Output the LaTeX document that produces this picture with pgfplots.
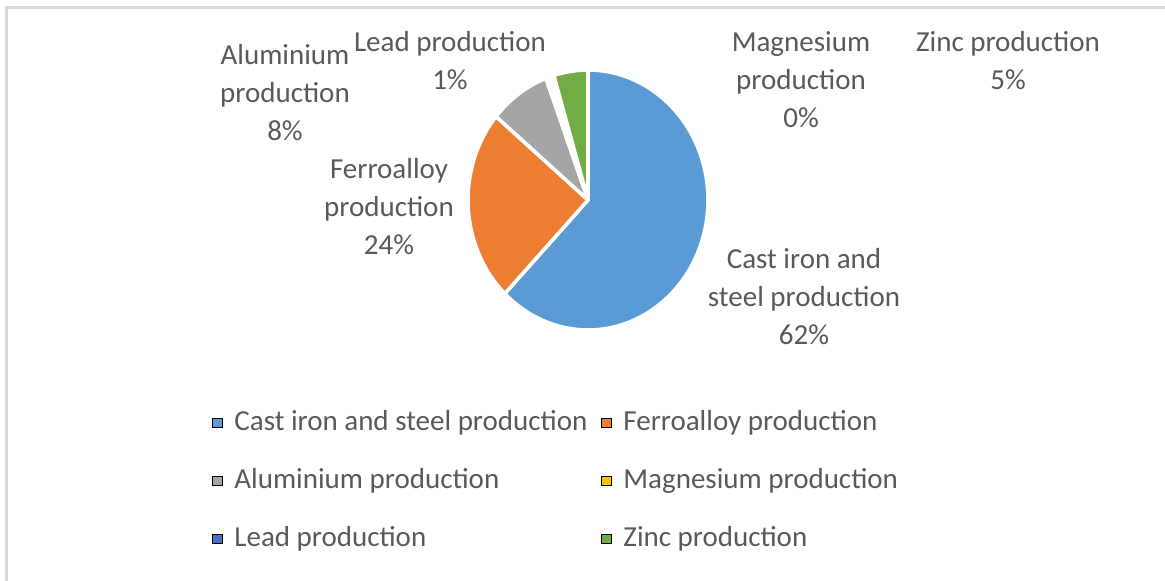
\documentclass[border=0pt]{standalone}
\usepackage{pgfplots}
\pgfplotsset{compat=1.18}
\usepackage{fontspec}
\setmainfont{Carlito}
\definecolor{cBlue}{HTML}{5B9BD5}
\definecolor{cOrange}{HTML}{ED7D31}
\definecolor{cGray}{HTML}{A5A5A5}
\definecolor{cYellow}{HTML}{FFC000}
\definecolor{cDark}{HTML}{4472C4}
\definecolor{cGreen}{HTML}{70AD47}
\definecolor{txt}{HTML}{595959}
\definecolor{frame}{HTML}{D9D9D9}
\newcommand\lf{\fontsize{14.5}{19}\selectfont}
\newcommand\Prd{produc\kern0pt tion}
\begin{document}
\begin{tikzpicture}
\useasboundingbox (0,0) rectangle (582.5pt,-290.5pt);
\begin{axis}[
  at={(0,0)}, anchor=north west,
  scale only axis, width=582.5pt, height=290.5pt,
  xmin=0, xmax=1165, ymin=0, ymax=581, y dir=reverse,
  hide axis, clip=false,
  legend columns=2,
  legend cell align=left,
  legend image code/.code={\fill[#1] (0pt,-2.3pt) rectangle (4.6pt,2.3pt);},
  legend style={draw=none, fill=none, font=\lf, text=txt,
    at={(axis cs:206,481)}, anchor=west, row sep=15pt,
    nodes={inner sep=0pt, text height=10.5pt, text depth=3.5pt},
    /tikz/every odd column/.append style={column sep=6pt},
    /tikz/every even column/.append style={column sep=7pt}},
]
\draw[frame, line width=1.5pt] (axis cs:6.5,700) -- (axis cs:6.5,7.5) -- (axis cs:1300,7.5);
\def\cumul{0}
\foreach \v/\c in {62.2/cBlue, 23.9/cOrange, 8.2/cGray, 0.1/cYellow, 1.0/white, 4.6/cGreen}{
  \pgfmathsetmacro\a{90-3.6*\cumul}
  \pgfmathsetmacro\b{90-3.6*(\cumul+\v)}
  \edef\temp{\noexpand\fill[fill=\c, draw=white, line width=1.8pt, line join=round] (axis cs:588,200) -- ++(\a:60pt and 65pt) arc[start angle=\a, end angle=\b, x radius=60pt, y radius=65pt] -- cycle;}
  \temp
  \pgfmathsetmacro\nc{\cumul+\v}
  \global\let\cumul\nc
}
\addlegendimage{fill=cBlue}\addlegendentry{Cast iron and steel \Prd}
\addlegendimage{fill=cOrange}\addlegendentry{Ferroalloy \Prd}
\addlegendimage{fill=cGray}\addlegendentry{Aluminium \Prd}
\addlegendimage{fill=cYellow}\addlegendentry{Magnesium \Prd}
\addlegendimage{fill=cDark}\addlegendentry{Lead \Prd}
\addlegendimage{fill=cGreen}\addlegendentry{Zinc \Prd}
\node[font=\lf, text=txt, align=center] at (axis cs:285,93) {Aluminium\\\Prd\\8\%};
\node[font=\lf, text=txt, align=center] at (axis cs:450,61) {Lead \Prd\\1\%};
\node[font=\lf, text=txt, align=center] at (axis cs:389,207) {Ferroalloy\\\Prd\\24\%};
\node[font=\lf, text=txt, align=center] at (axis cs:801,80) {Magnesium\\\Prd\\0\%};
\node[font=\lf, text=txt, align=center] at (axis cs:1008,61) {Zinc \Prd\\5\%};
\node[font=\lf, text=txt, align=center] at (axis cs:804,297) {Cast iron and\\steel \Prd\\62\%};
\end{axis}
\end{tikzpicture}
\end{document}
